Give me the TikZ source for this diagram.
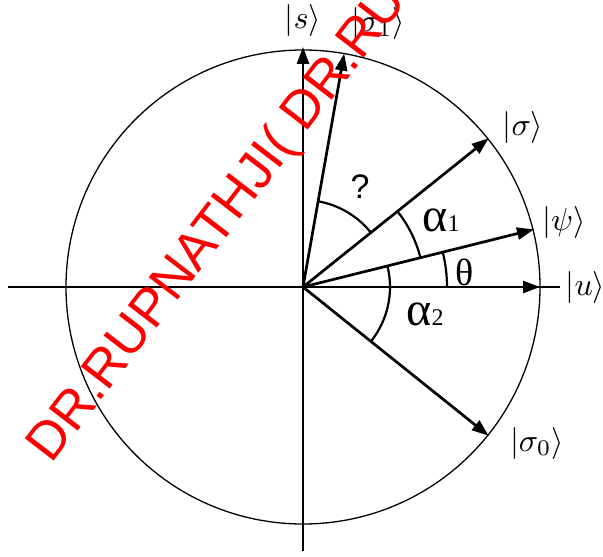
\documentclass[tikz,border=0pt]{standalone}
\usepackage{fontspec}
\usetikzlibrary{arrows.meta}
\newfontfamily\wmfont{Liberation Sans}
\newfontfamily\grkfont{Liberation Serif}
\newcommand{\bigket}[1]{\scalebox{1.6}{$|#1\rangle$}}
\tikzset{
  vecline/.style={line width=1.35pt, -{Triangle[length=8.5pt,width=6pt]}},
  axisline/.style={line width=1.35pt},
  anglearc/.style={line width=1.1pt},
  ket/.style={inner sep=0pt},
  greek/.style={font=\grkfont\fontsize{24}{28}\selectfont, inner sep=0pt},
}
\begin{document}
\begin{tikzpicture}[x=0.5pt,y=0.5pt]
\useasboundingbox (-303,-269) rectangle (300,287);
\clip (-303,-269) rectangle (300,287);
% points
\coordinate (O) at (0,0);
\coordinate (L) at (-295,0);
\coordinate (R) at (257,0);
\coordinate (B) at (0,-264);
\coordinate (T) at (0,240);
\coordinate (U) at (0:237);
\coordinate (S1) at (80:237);
\coordinate (Sg) at (38.7:238);
\coordinate (Psi) at (14:238);
\coordinate (S0) at (-38.7:238);
% circle
\draw[line width=0.65pt] (O) circle[radius=237];
% axes
\draw[axisline] (L) -- (R);
\draw[vecline] (B) -- (T);
\draw[vecline] (O) -- (U);
% vectors
\draw[vecline] (O) -- (S1);
\draw[vecline] (O) -- (Sg);
\draw[vecline] (O) -- (Psi);
\draw[vecline] (O) -- (S0);
% angle arcs
\draw[anglearc] ([shift=(0:144)]O) arc[start angle=0,end angle=14,radius=144];
\draw[anglearc] ([shift=(14:121)]O) arc[start angle=14,end angle=38.7,radius=121];
\draw[anglearc] ([shift=(-38.7:87)]O) arc[start angle=-38.7,end angle=14,radius=87];
\draw[anglearc] ([shift=(38.7:87)]O) arc[start angle=38.7,end angle=80,radius=87];
% ket labels
\node[ket] (ls) at (0,266) {\bigket{s}};
\node[ket] (ls1) at (75,263) {\bigket{\sigma_1}};
\node[ket] (lsg) at (220,159) {\bigket{\sigma}};
\node[ket] (lpsi) at (261,65) {\bigket{\psi}};
\node[ket] (lu) at (282.5,0) {\bigket{u}};
\node[ket] (ls0) at (234,-156) {\bigket{\sigma_0}};
% angle labels
\node[greek, font=\grkfont\fontsize{19}{22}\selectfont] (lth) at (162,15) {θ};
\node[greek, anchor=base west] (la1) at (119,55) {α\fontsize{12}{14}\selectfont 1};
\node[greek, anchor=base west] (la2) at (103,-38) {α\fontsize{12}{14}\selectfont 2};
\node[font=\wmfont\fontsize{17}{20}\selectfont, inner sep=0pt] (lq) at (57,100) {?};
% watermark
\node[font=\wmfont\fontsize{26.5}{30}\selectfont, text=red, inner sep=0pt,
      anchor=base west, rotate=52.5] (wm) at (-251.3,-178) {DR.RUPNATHJI( DR.RU};
\end{tikzpicture}
\end{document}
